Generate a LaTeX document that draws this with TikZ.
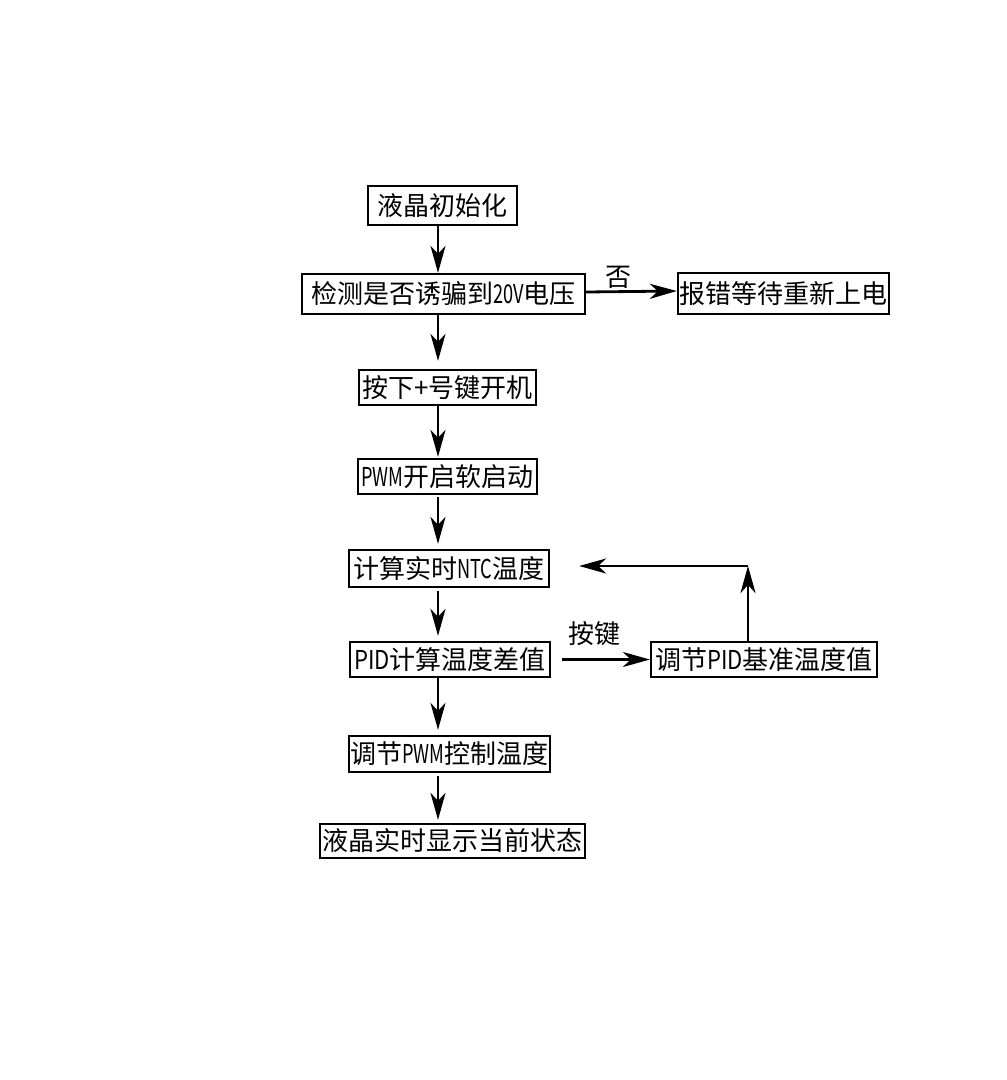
\documentclass[tikz,border=0pt]{standalone}
\usepackage{fontspec}
\setmainfont{Noto Sans CJK SC}
\usetikzlibrary{arrows.meta}
\newcommand\narlat[1]{\scalebox{0.7}[1]{#1}}
\newcommand\midlat[1]{\scalebox{0.85}[1]{#1}}
\tikzset{
  box/.style={draw, line width=2.3pt, inner sep=0pt, font=\fontsize{26}{29}\selectfont},
  lab/.style={inner sep=0pt, font=\fontsize{26}{29}\selectfont},
  arr/.style={line width=2.8pt, -{Stealth[length=27pt,width=15pt,inset=8pt]}},
}
\begin{document}
\begin{tikzpicture}[x=1pt,y=-1pt]
\useasboundingbox (0,0) rectangle (1007,1080);
\node[box, minimum width=149pt, minimum height=39pt] (b1) at (442.5,205.5) {液晶初始化};
\node[box, minimum width=283pt, minimum height=40pt] (b2) at (443.5,294) {检测是否诱骗到\narlat{20V}电压};
\node[box, minimum width=211pt, minimum height=41pt] (b3) at (783.5,293.5) {报错等待重新上电};
\node[box, minimum width=177pt, minimum height=35pt] (b4) at (447.5,387.5) {按下+号键开机};
\node[box, minimum width=179pt, minimum height=35pt] (b5) at (447.5,476.5) {\narlat{PWM}开启软启动};
\node[box, minimum width=200pt, minimum height=37pt] (b6) at (449,568.5) {计算实时\narlat{NTC}温度};
\node[box, minimum width=200pt, minimum height=35pt] (b7) at (450,659.5) {\midlat{PID}计算温度差值};
\node[box, minimum width=226pt, minimum height=35pt] (b8) at (764,659.5) {调节\midlat{PID}基准温度值};
\node[box, minimum width=201pt, minimum height=36pt] (b9) at (449.5,754) {调节\narlat{PWM}控制温度};
\node[box, minimum width=265pt, minimum height=34pt] (b10) at (452.5,841) {液晶实时显示当前状态};
\node[lab] (l1) at (618,277) {否};
\node[lab] (l2) at (594,634) {按键};
\coordinate (col) at (438,0);
\coordinate (corner) at (748,566);
\draw[arr] (b1.south -| col) -- (b2.north -| col);
\draw[arr, shorten >=8pt] (b2.south -| col) -- (b4.north -| col);
\draw[arr, shorten >=1pt] (b4.south -| col) -- (b5.north -| col);
\draw[arr, shorten <=2pt, shorten >=5pt] (b5.south -| col) -- (b6.north -| col);
\draw[arr, shorten <=3pt, shorten >=5pt] (b6.south -| col) -- (b7.north -| col);
\draw[arr, shorten >=5pt] (b7.south -| col) -- (b9.north -| col);
\draw[arr, shorten <=3pt, shorten >=3pt] (b9.south -| col) -- (b10.north -| col);
\draw[arr] ([yshift=2pt]b2.east) -- ([yshift=2.5pt]b3.west);
\draw[arr, shorten <=11pt] (b7.east) -- (b8.west);
\draw[arr] (b8.north -| corner) -- (corner);
\draw[arr, shorten >=29pt] (corner) -- (b6.east |- corner);
\end{tikzpicture}
\end{document}
